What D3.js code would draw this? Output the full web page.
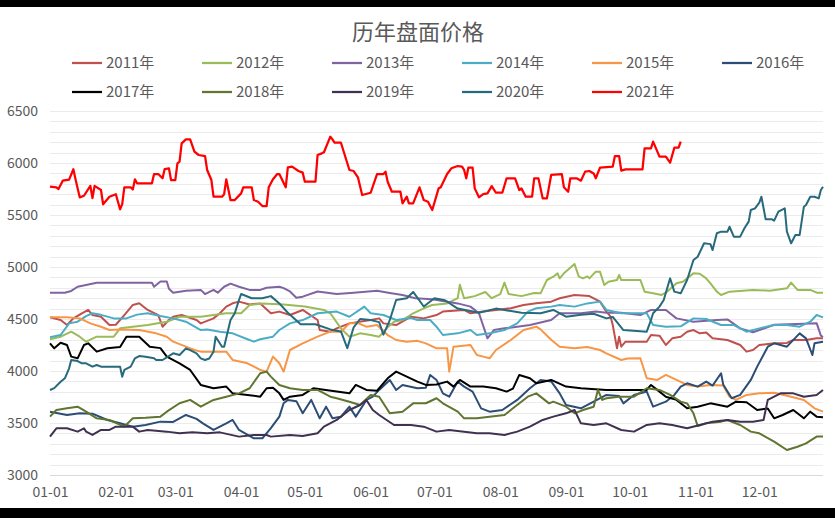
<!DOCTYPE html>
<html><head><meta charset="utf-8">
<script src="https://cdn.jsdelivr.net/npm/d3@7"></script>
<style>
body{margin:0;background:#fff;}
text{font-family:"Noto Sans CJK SC","Noto Sans",sans-serif;fill:#595959;}
</style></head>
<body><svg id="c" width="835" height="518"></svg>
<script>
// ---- data: [day of year (0 = 01-01), price] ----
const seriesNames = ["2011年","2012年","2013年","2014年","2015年","2016年","2017年","2018年","2019年","2020年","2021年"];
const seriesColors = ["#c0504d","#9bbb59","#8064a2","#4bacc6","#f79646","#2c4d75","#000000","#5f7530","#403152","#276a7c","#ff0000"];
const yTicks = [3000,3500,4000,4500,5000,5500,6000,6500];

const s2011 = [[0,4516],[5,4490],[8,4442],[11,4506],[15,4555],[18,4587],[20,4538],[24,4522],[28,4442],[31,4445],[35,4538],[39,4635],[42,4651],[46,4587],[51,4538],[53,4426],[56,4490],[58,4522],[62,4538],[69,4490],[71,4458],[77,4506],[80,4555],[83,4619],[86,4651],[89,4667],[94,4640],[99,4650],[104,4555],[108,4571],[113,4538],[119,4587],[126,4490],[127,4394],[132,4378],[135,4410],[141,4458],[151,4490],[155,4506],[157,4458],[163,4442],[170,4522],[176,4506],[182,4538],[185,4571],[195,4587],[198,4555],[204,4571],[210,4587],[217,4603],[223,4635],[229,4651],[236,4667],[240,4700],[247,4730],[254,4720],[259,4667],[262,4571],[264,4522],[265,4442],[267,4218],[268,4330],[269,4234],[271,4282],[281,4282],[283,4346],[287,4340],[290,4250],[293,4314],[297,4330],[300,4378],[303,4394],[306,4362],[309,4370],[312,4314],[319,4298],[325,4250],[328,4186],[331,4202],[334,4250],[341,4266],[347,4270],[350,4298],[356,4298],[361,4314],[364,4314]];
const s2012 = [[0,4305],[5,4330],[10,4378],[14,4330],[17,4282],[22,4330],[30,4330],[33,4410],[39,4426],[46,4442],[55,4474],[61,4522],[71,4522],[77,4538],[83,4555],[90,4555],[94,4635],[100,4650],[110,4640],[120,4620],[129,4587],[132,4555],[137,4410],[141,4330],[146,4362],[151,4346],[155,4330],[159,4420],[162,4474],[166,4490],[171,4555],[176,4603],[180,4635],[187,4650],[192,4700],[193,4830],[195,4700],[200,4720],[205,4760],[208,4700],[212,4740],[214,4850],[216,4740],[222,4720],[228,4750],[231,4747],[234,4875],[237,4907],[239,4939],[240,4891],[242,4939],[247,5029],[249,4907],[251,4891],[253,4910],[254,4891],[257,4955],[259,4955],[261,4827],[263,4859],[267,4875],[268,4923],[269,4875],[278,4875],[280,4763],[284,4747],[288,4731],[290,4753],[295,4843],[298,4859],[303,4939],[306,4935],[309,4891],[311,4843],[314,4763],[316,4731],[320,4763],[331,4780],[339,4772],[347,4795],[349,4850],[352,4780],[358,4780],[361,4753],[364,4753]];
const s2013 = [[0,4753],[7,4753],[10,4770],[13,4810],[22,4849],[30,4849],[48,4849],[49,4810],[52,4860],[55,4860],[56,4790],[58,4753],[64,4772],[71,4780],[73,4740],[77,4780],[79,4753],[82,4810],[85,4840],[89,4810],[94,4780],[99,4780],[102,4800],[108,4810],[110,4797],[113,4765],[116,4705],[119,4715],[126,4765],[135,4740],[143,4753],[154,4772],[160,4750],[166,4730],[172,4700],[180,4690],[192,4650],[198,4619],[202,4555],[206,4314],[209,4394],[214,4410],[220,4426],[226,4442],[236,4490],[240,4555],[245,4555],[250,4555],[257,4571],[262,4560],[269,4560],[278,4538],[283,4587],[290,4587],[295,4506],[303,4474],[314,4490],[319,4496],[325,4410],[331,4372],[341,4445],[355,4455],[361,4460],[363,4340],[364,4327]];
const s2014 = [[0,4324],[5,4346],[9,4458],[13,4474],[17,4528],[20,4555],[24,4540],[30,4506],[36,4506],[41,4542],[46,4555],[52,4528],[58,4506],[64,4474],[71,4394],[74,4400],[80,4378],[86,4362],[93,4305],[96,4282],[99,4305],[105,4330],[108,4394],[113,4458],[119,4490],[126,4555],[135,4571],[141,4522],[148,4619],[151,4555],[157,4538],[163,4490],[170,4510],[173,4490],[179,4490],[182,4426],[185,4346],[192,4362],[198,4394],[201,4346],[207,4362],[214,4394],[220,4458],[225,4571],[229,4603],[236,4619],[240,4635],[247,4619],[253,4650],[259,4667],[262,4587],[269,4555],[281,4555],[284,4442],[290,4426],[297,4430],[303,4506],[309,4500],[316,4442],[322,4442],[328,4378],[334,4410],[341,4442],[347,4442],[353,4426],[358,4474],[361,4538],[364,4516]];
const s2015 = [[0,4516],[8,4516],[14,4506],[19,4458],[24,4426],[28,4394],[33,4400],[42,4394],[50,4362],[55,4330],[58,4282],[64,4234],[68,4202],[71,4186],[83,4186],[86,4106],[93,4074],[99,4010],[102,3994],[105,4138],[108,4074],[110,3994],[113,4202],[119,4266],[126,4330],[132,4378],[137,4378],[141,4458],[145,4460],[149,4426],[154,4442],[159,4346],[163,4298],[168,4282],[173,4290],[177,4266],[182,4218],[187,4218],[188,3994],[190,4234],[198,4250],[201,4154],[204,4138],[207,4122],[210,4202],[217,4298],[223,4394],[229,4426],[231,4400],[236,4300],[240,4234],[247,4218],[253,4230],[259,4202],[262,4170],[269,4106],[272,4120],[278,4122],[281,3930],[286,3914],[290,3962],[295,3914],[300,3866],[305,3850],[311,3866],[317,3860],[320,3753],[323,3722],[328,3770],[334,3785],[341,3790],[349,3753],[355,3722],[360,3641],[364,3609]];
const s2016 = [[0,3609],[8,3577],[14,3593],[20,3590],[27,3529],[33,3497],[39,3465],[45,3480],[52,3513],[58,3510],[64,3577],[69,3540],[72,3497],[77,3433],[83,3497],[86,3529],[89,3433],[96,3353],[100,3353],[104,3450],[108,3561],[110,3690],[112,3722],[116,3710],[119,3593],[123,3722],[127,3545],[130,3657],[133,3545],[137,3560],[141,3657],[144,3561],[149,3722],[152,3753],[155,3818],[160,3914],[163,3818],[166,3866],[173,3834],[177,3840],[179,3962],[182,3914],[185,3785],[188,3753],[192,3898],[195,3850],[199,3802],[203,3641],[207,3609],[213,3625],[220,3722],[226,3834],[231,3914],[236,3900],[240,3785],[243,3673],[250,3641],[256,3705],[262,3770],[268,3760],[270,3689],[275,3770],[281,3802],[284,3657],[290,3705],[294,3770],[297,3850],[300,3882],[305,3850],[309,3898],[312,3860],[316,3978],[317,3870],[321,3738],[325,3770],[330,3914],[333,4042],[338,4234],[341,4266],[347,4234],[353,4362],[356,4314],[359,4154],[360,4266],[364,4282]];
const s2017 = [[0,4266],[2,4218],[5,4272],[8,4250],[10,4138],[13,4122],[16,4250],[18,4266],[22,4186],[27,4218],[33,4230],[36,4330],[42,4330],[47,4234],[52,4220],[55,4138],[61,4074],[66,4010],[71,3866],[77,3834],[83,3850],[86,3785],[93,3770],[99,3753],[102,3834],[105,3840],[108,3785],[110,3722],[113,3753],[119,3770],[124,3834],[129,3820],[135,3802],[141,3785],[144,3866],[149,3818],[154,3810],[159,3930],[163,3994],[168,3946],[173,3898],[177,3866],[182,3870],[187,3898],[190,3850],[193,3914],[198,3850],[204,3850],[210,3834],[215,3802],[218,3830],[221,3962],[226,3930],[229,3882],[236,3914],[243,3850],[250,3834],[262,3818],[272,3818],[281,3818],[283,3866],[287,3802],[290,3753],[295,3722],[300,3641],[305,3657],[311,3689],[319,3657],[323,3705],[328,3700],[333,3625],[338,3640],[341,3545],[345,3577],[350,3625],[355,3545],[358,3609],[361,3561],[364,3555]];
const s2018 = [[0,3561],[3,3625],[8,3641],[13,3657],[17,3609],[22,3545],[28,3529],[35,3465],[39,3545],[45,3550],[52,3561],[55,3609],[61,3690],[66,3722],[71,3657],[77,3722],[83,3753],[89,3785],[94,3834],[99,3978],[102,3994],[104,3946],[108,3866],[113,3834],[119,3818],[126,3818],[132,3753],[135,3738],[141,3705],[146,3673],[151,3770],[155,3753],[160,3593],[166,3609],[171,3689],[177,3690],[182,3738],[185,3689],[192,3609],[195,3545],[201,3545],[207,3561],[214,3577],[218,3641],[225,3753],[229,3785],[235,3689],[237,3705],[243,3657],[247,3593],[251,3625],[256,3657],[258,3818],[260,3722],[262,3738],[268,3753],[275,3753],[281,3834],[287,3818],[292,3770],[297,3705],[300,3689],[303,3593],[305,3471],[309,3497],[316,3513],[319,3529],[325,3481],[330,3417],[334,3401],[341,3321],[347,3240],[352,3272],[356,3304],[361,3369],[364,3369]];
const s2019 = [[0,3369],[3,3449],[8,3449],[13,3417],[16,3449],[17,3417],[20,3385],[24,3433],[28,3433],[31,3465],[39,3465],[42,3417],[46,3433],[55,3417],[61,3401],[67,3410],[74,3401],[80,3410],[89,3369],[96,3385],[102,3385],[104,3369],[113,3385],[119,3375],[126,3401],[129,3465],[135,3529],[141,3625],[146,3673],[149,3722],[152,3625],[155,3577],[162,3481],[170,3481],[176,3465],[182,3417],[188,3433],[195,3417],[201,3401],[207,3401],[214,3385],[220,3417],[226,3465],[232,3529],[237,3561],[243,3593],[247,3625],[250,3497],[256,3481],[262,3497],[269,3433],[275,3417],[281,3481],[287,3497],[293,3481],[300,3449],[306,3481],[312,3513],[319,3529],[325,3513],[331,3513],[336,3529],[338,3722],[341,3753],[344,3785],[350,3785],[355,3753],[361,3770],[364,3818]];
const s2020 = [[0,3817],[2,3835],[5,3897],[7,3930],[9,4026],[10,4106],[13,4096],[15,4074],[17,4074],[20,4042],[22,4058],[24,4042],[33,4042],[34,3945],[35,4010],[38,4042],[40,4122],[42,4144],[45,4138],[49,4122],[50,4106],[53,4106],[58,4170],[61,4154],[64,4218],[66,4200],[69,4170],[71,4122],[73,4106],[75,4120],[77,4186],[78,4330],[81,4234],[82,4234],[85,4490],[87,4555],[89,4683],[90,4740],[95,4700],[100,4700],[104,4720],[108,4650],[112,4560],[118,4450],[125,4450],[132,4400],[137,4380],[140,4220],[143,4420],[146,4500],[151,4490],[155,4470],[157,4350],[160,4490],[163,4683],[168,4700],[171,4760],[176,4620],[181,4700],[186,4680],[192,4600],[202,4560],[210,4600],[222,4560],[231,4555],[237,4587],[243,4522],[250,4540],[256,4550],[262,4506],[265,4520],[270,4394],[281,4378],[283,4490],[284,4555],[287,4619],[289,4683],[292,4891],[294,4763],[297,4747],[300,4875],[303,5067],[305,5099],[308,5228],[311,5220],[312,5163],[314,5324],[316,5340],[319,5340],[320,5387],[322,5292],[325,5292],[327,5372],[329,5436],[330,5548],[332,5564],[334,5619],[335,5676],[337,5458],[340,5458],[341,5446],[343,5532],[346,5564],[347,5340],[349,5228],[351,5308],[353,5308],[355,5580],[356,5596],[358,5676],[360,5676],[362,5660],[363,5740],[364,5772]];
const s2021 = [[0,5772],[3,5765],[4,5750],[6,5830],[9,5840],[11,5940],[12,5845],[14,5670],[16,5685],[19,5780],[20,5663],[21,5780],[24,5740],[25,5603],[28,5676],[31,5700],[33,5555],[34,5605],[35,5766],[38,5766],[39,5745],[40,5843],[41,5805],[48,5805],[49,5894],[51,5894],[53,5853],[54,5942],[56,5949],[57,5836],[59,5836],[60,5997],[61,6013],[62,6189],[64,6227],[66,6227],[68,6109],[70,6077],[73,6067],[74,5933],[76,5836],[77,5676],[81,5676],[82,5700],[83,5843],[85,5644],[87,5644],[90,5708],[91,5766],[95,5766],[96,5644],[98,5628],[100,5586],[102,5586],[103,5766],[105,5843],[107,5894],[108,5894],[111,5766],[112,5959],[114,5965],[117,5923],[119,5907],[120,5820],[125,5820],[126,6077],[128,6093],[129,6103],[132,6253],[133,6227],[134,6195],[137,6195],[141,5933],[143,5923],[145,5862],[147,5692],[151,5714],[154,5894],[157,5894],[158,5917],[159,5820],[161,5724],[165,5724],[166,5612],[168,5676],[169,5612],[171,5612],[174,5766],[176,5644],[178,5628],[180,5548],[183,5756],[184,5766],[187,5894],[189,5949],[192,5971],[194,5965],[195,5933],[196,5853],[197,5955],[199,5955],[200,5756],[202,5670],[204,5700],[206,5708],[208,5778],[210,5714],[213,5714],[215,5853],[219,5853],[221,5740],[222,5756],[224,5676],[227,5676],[228,5853],[230,5853],[232,5660],[234,5660],[236,5885],[241,5894],[242,5766],[244,5724],[245,5853],[248,5853],[250,5830],[252,5917],[254,5923],[256,5900],[257,5853],[259,5955],[265,5965],[266,6067],[268,6067],[269,5926],[271,5939],[279,5939],[280,6141],[283,6141],[284,6205],[287,6061],[290,6061],[292,6003],[294,6147],[296,6147],[297,6205]];

const seriesData = [s2011,s2012,s2013,s2014,s2015,s2016,s2017,s2018,s2019,s2020,s2021];

// ---- drawing ----
const W = 835, H = 518;
const svg = d3.select("#c");
svg.append("rect").attr("width",W).attr("height",H).attr("fill","#fff");
svg.append("rect").attr("x",0).attr("y",0).attr("width",W).attr("height",7).attr("fill","#000");
svg.append("rect").attr("x",0).attr("y",508).attr("width",W).attr("height",10).attr("fill","#000");

const dayToDate = d => new Date(2021,0,1+d);
const x = d3.scaleTime().domain([dayToDate(0), dayToDate(364)]).range([50,823]);
const y = d3.scaleLinear().domain([3000,6500]).range([475,111]);

// grid
const grid = svg.append("g");
grid.selectAll("line").data(d3.range(3100,6501,100)).join("line")
  .attr("x1",50).attr("x2",823)
  .attr("y1",d=>Math.round(y(d))+0.5).attr("y2",d=>Math.round(y(d))+0.5)
  .attr("stroke","#ebebeb").attr("stroke-width",1);

// y axis
const yAxis = d3.axisLeft(y).tickValues(yTicks).tickFormat(d3.format("d")).tickSize(0).tickPadding(0);
const gy = svg.append("g").attr("transform","translate(38,0)").call(yAxis);
gy.select(".domain").remove();
gy.selectAll("text").attr("font-size",14).style("font-family","'Noto Sans CJK SC','Noto Sans',sans-serif").attr("fill","#595959").attr("dy","0.35em");

// x axis
const xAxis = d3.axisBottom(x).ticks(d3.timeMonth.every(1)).tickFormat(d3.timeFormat("%m-%d")).tickSize(0).tickPadding(12);
const gx = svg.append("g").attr("transform",`translate(0,${y(3000)})`).call(xAxis);
gx.select(".domain").attr("stroke","#d9d9d9").attr("d","M50,0.5H823");
gx.selectAll("text").attr("font-size",14).style("font-family","'Noto Sans CJK SC','Noto Sans',sans-serif").attr("fill","#595959");

// lines
const line = d3.line().x(d=>x(dayToDate(d[0]))).y(d=>y(d[1]));
svg.append("g").selectAll("path").data(seriesData).join("path")
  .attr("d",line).attr("fill","none")
  .attr("stroke",(d,i)=>seriesColors[i])
  .attr("stroke-width",(d,i)=> i===10 ? 2.25 : 2)
  .attr("stroke-linejoin","round");

// title
svg.append("text").attr("x",418).attr("y",40).attr("text-anchor","middle")
  .attr("font-size",22).text("历年盘面价格");

// legend
const lg = svg.append("g");
seriesNames.forEach((n,i)=>{
  const row = Math.floor(i/6), col = i%6;
  const lx = 72 + col*130, ly = 63 + row*29;
  lg.append("line").attr("x1",lx).attr("x2",lx+30).attr("y1",ly).attr("y2",ly)
    .attr("stroke",seriesColors[i]).attr("stroke-width",2.25);
  lg.append("text").attr("x",lx+34).attr("y",ly).attr("dy","0.35em")
    .attr("font-size",15).text(n);
});
</script></body></html>
